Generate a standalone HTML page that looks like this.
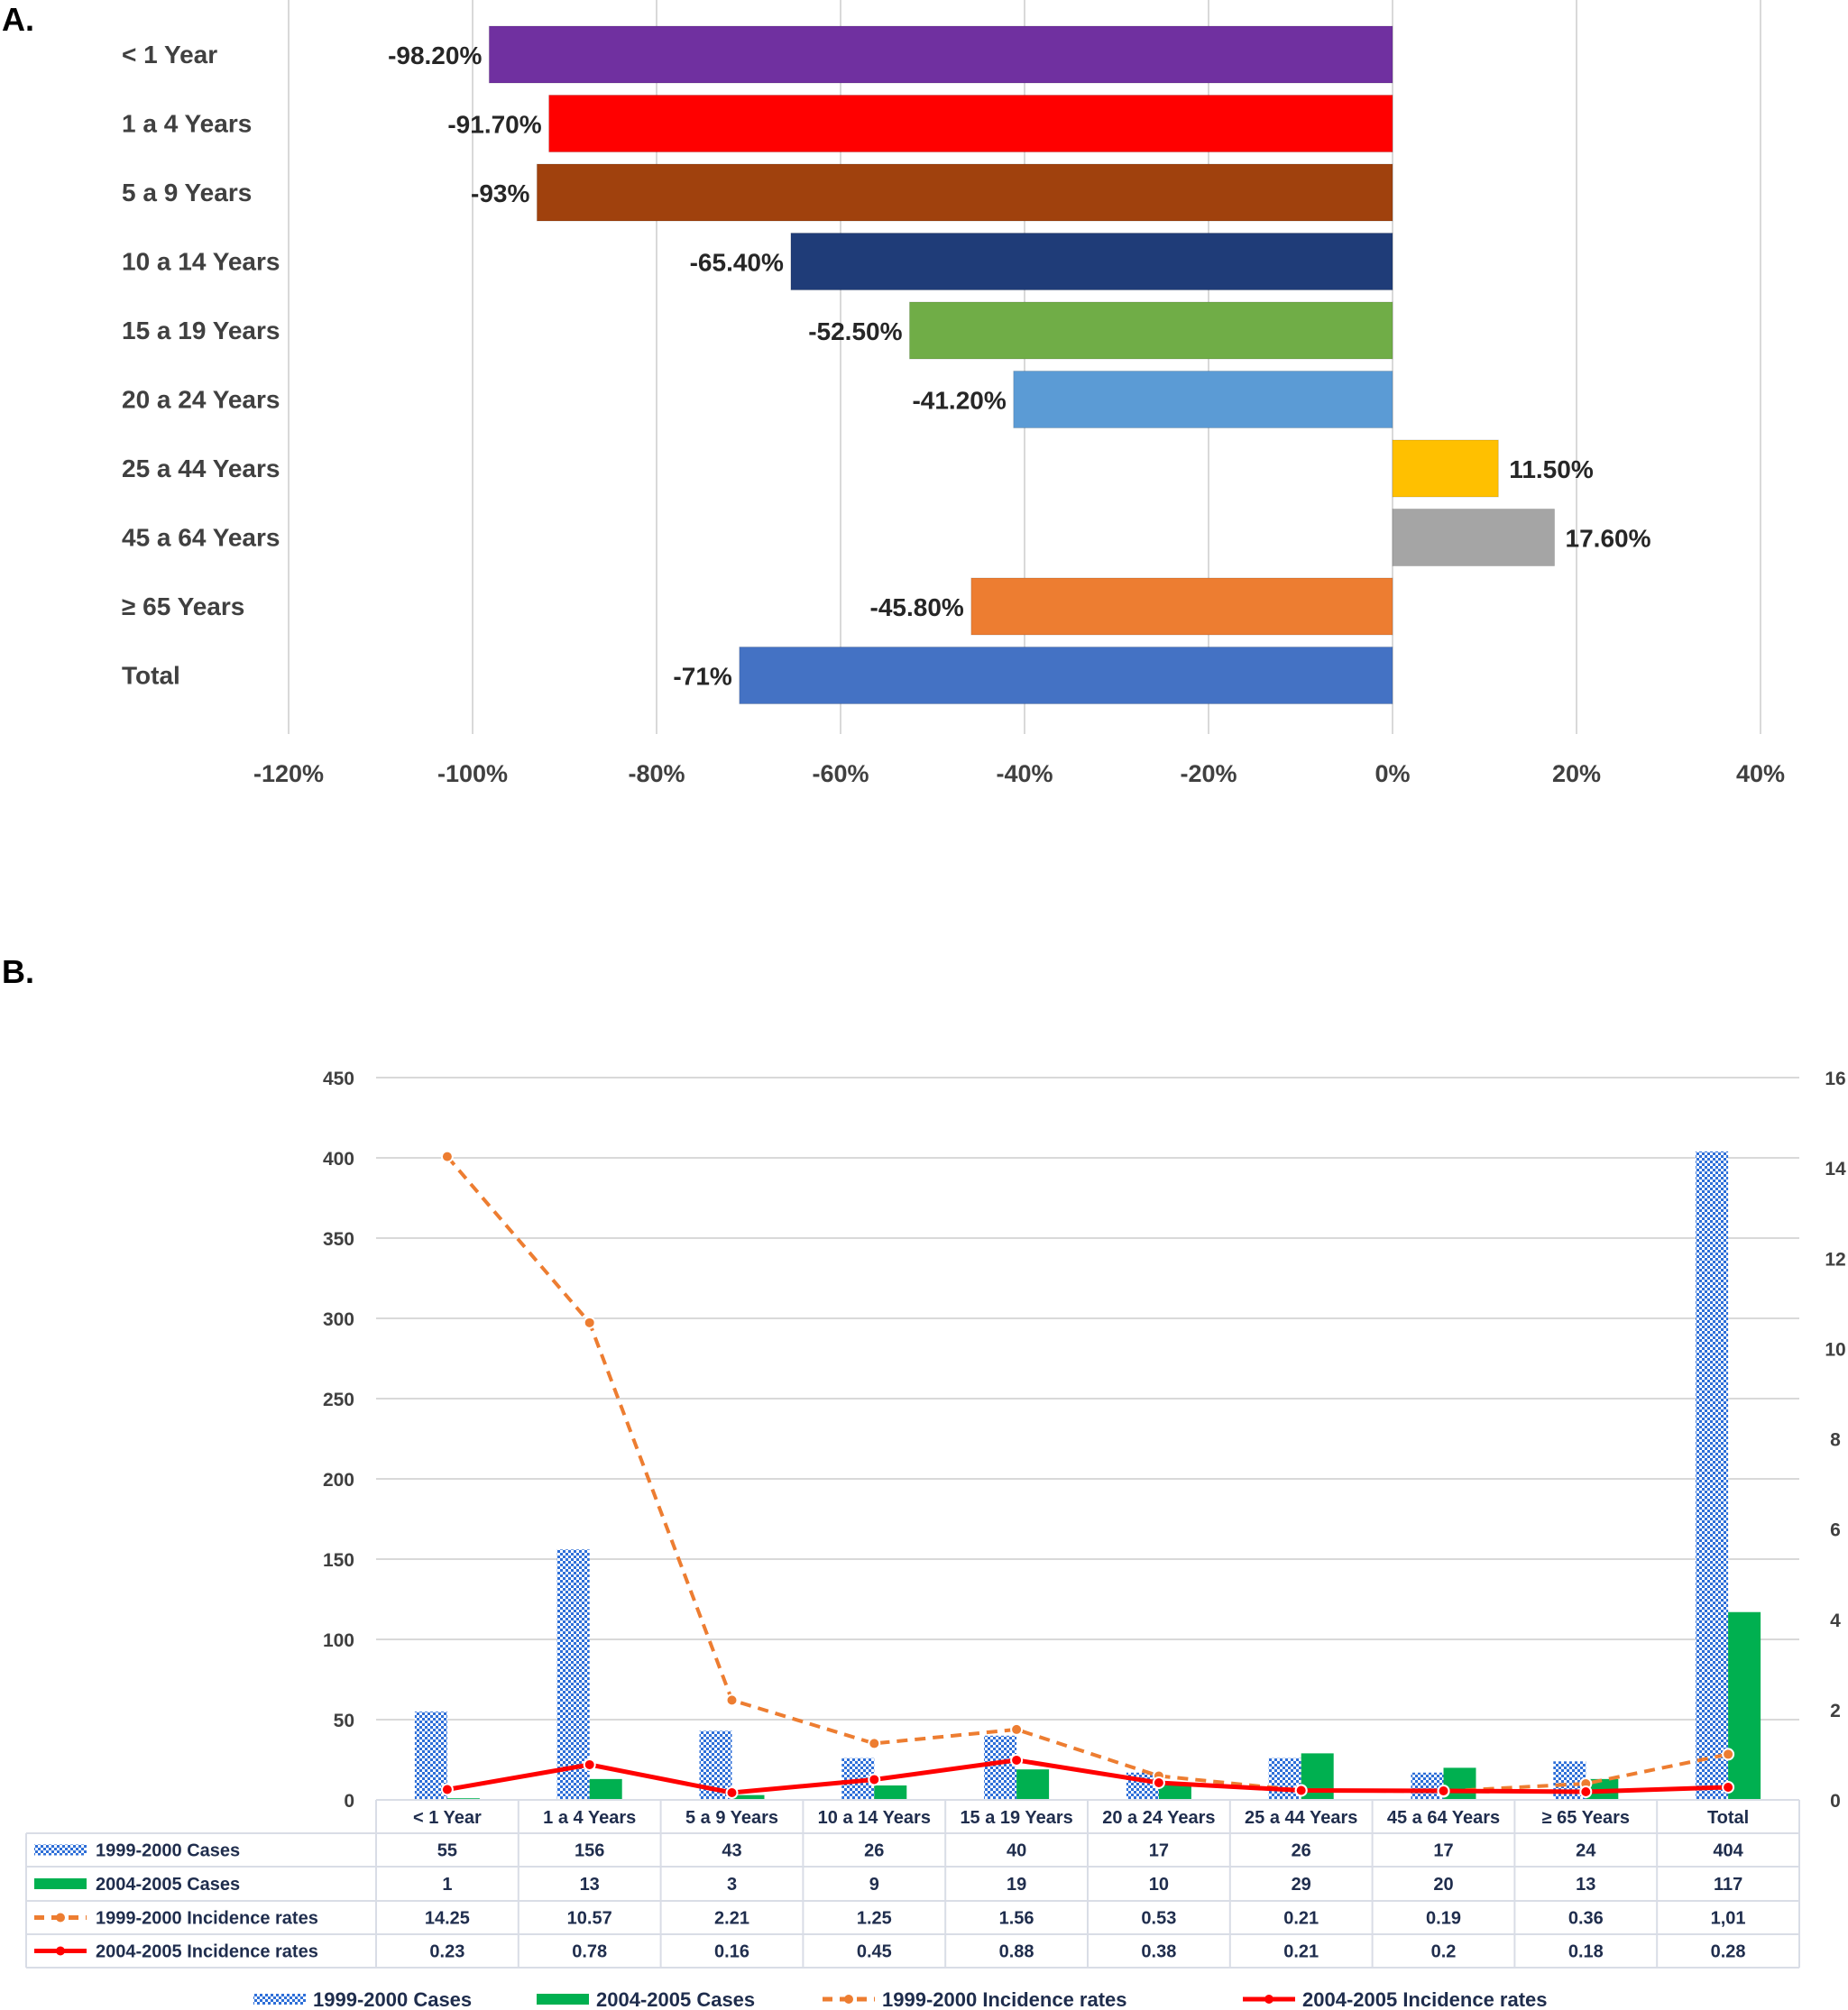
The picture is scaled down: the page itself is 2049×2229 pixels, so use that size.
<!DOCTYPE html>
<html><head><meta charset="utf-8">
<style>
body{margin:0;background:#fff;}
svg{display:block;font-family:"Liberation Sans",sans-serif;}
</style></head>
<body>
<svg id="root" width="2049" height="2229" viewBox="0 0 2049 2229">
<defs>
<pattern id="chk" width="6" height="6" patternUnits="userSpaceOnUse">
<rect width="6" height="6" fill="#2e6fd8"/>
<rect width="3" height="3" fill="#ffffff"/><rect x="3" y="3" width="3" height="3" fill="#ffffff"/>
</pattern>
</defs>
<text x="2" y="34" font-size="36" font-weight="bold" fill="#000">A.</text>
<g id="chartA"></g>
<text x="2" y="1090" font-size="36" font-weight="bold" fill="#000">B.</text>
<g id="chartB"></g>
</svg>
<script>
const aCategories=["< 1 Year","1 a 4 Years","5 a 9 Years","10 a 14 Years","15 a 19 Years","20 a 24 Years","25 a 44 Years","45 a 64 Years","≥ 65 Years","Total"];
const aValues=[-98.2,-91.7,-93,-65.4,-52.5,-41.2,11.5,17.6,-45.8,-71];
const aLabels=["-98.20%","-91.70%","-93%","-65.40%","-52.50%","-41.20%","11.50%","17.60%","-45.80%","-71%"];
const aColors=["#7030a0","#ff0000","#a0410d","#1f3c78","#70ad47","#5b9bd5","#ffc000","#a5a5a5","#ed7d31","#4472c4"];
const aTicks=[-120,-100,-80,-60,-40,-20,0,20,40];

const bCategories=["< 1 Year","1 a 4 Years","5 a 9 Years","10 a 14 Years","15 a 19 Years","20 a 24 Years","25 a 44 Years","45 a 64 Years","≥ 65 Years","Total"];
const cases1999=[55,156,43,26,40,17,26,17,24,404];
const cases2004=[1,13,3,9,19,10,29,20,13,117];
const rate1999=[14.25,10.57,2.21,1.25,1.56,0.53,0.21,0.19,0.36,1.01];
const rate2004=[0.23,0.78,0.16,0.45,0.88,0.38,0.21,0.2,0.18,0.28];
const rate1999Text=["14.25","10.57","2.21","1.25","1.56","0.53","0.21","0.19","0.36","1,01"];
const rate2004Text=["0.23","0.78","0.16","0.45","0.88","0.38","0.21","0.2","0.18","0.28"];
const leftTicks=[0,50,100,150,200,250,300,350,400,450];
const rightTicks=[0,2,4,6,8,10,12,14,16];

const NS="http://www.w3.org/2000/svg";
function mk(p,t,a,txt){const e=document.createElementNS(NS,t);for(const k in a)e.setAttribute(k,a[k]);if(txt!==undefined)e.textContent=txt;p.appendChild(e);return e;}

// Chart A
const A=document.getElementById('chartA');
const ax=v=>1544+v*(204/20);
const ay=i=>60+i*76.5;
aTicks.forEach(t=>{
 const l=mk(A,'line',{x1:ax(t),x2:ax(t),y1:0,y2:814,stroke:'#d9d9d9','stroke-width':2});
 
 
 const tx=mk(A,'text',{x:ax(t),y:867,'text-anchor':'middle','font-size':27,'font-weight':'bold',fill:'#404040'},t+'%');
 
 
});
aCategories.forEach((c,i)=>{
 const y=ay(i);
 const t=mk(A,'text',{x:135,y:y+10,'font-size':28,'font-weight':'bold',fill:'#404040'},c);
 
 
 const v=aValues[i];
 const x0=Math.min(ax(0),ax(v)), w=Math.abs(ax(v)-ax(0));
 const r=mk(A,'rect',{x:x0,y:y-31,width:w,height:63,fill:aColors[i],stroke:'#00000022'});
 
 
 const lx=v<0?ax(v)-8:ax(v)+12;
 const lt=mk(A,'text',{x:lx,y:y+11,'text-anchor':v<0?'end':'start','font-size':28,'font-weight':'bold',fill:'#262626'},aLabels[i]);
 
 
});

// Chart B
const B=document.getElementById('chartB');
const px0=417, cw=157.8, by0=1996;
const yl=v=>by0-v*(801/450);
const yr=v=>by0-v*(801/16);
const cx=i=>px0+cw*i+cw/2;
leftTicks.forEach(t=>{
 const l=mk(B,'line',{x1:px0,x2:1995,y1:yl(t),y2:yl(t),stroke:'#d9d9d9','stroke-width':2});
 
 
 const tx=mk(B,'text',{x:393,y:yl(t)+8,'text-anchor':'end','font-size':21,'font-weight':'bold',fill:'#404040'},t);
 
 
});
rightTicks.forEach(t=>{
 const tx=mk(B,'text',{x:2035,y:yr(t)+8,'text-anchor':'middle','font-size':21,'font-weight':'bold',fill:'#404040'},t);
 
 
});
bCategories.forEach((c,i)=>{
 const b1=mk(B,'rect',{x:cx(i)-36,y:yl(cases1999[i]),width:36,height:by0-yl(cases1999[i]),fill:'url(#chk)'});
 
 
 const b2=mk(B,'rect',{x:cx(i),y:yl(cases2004[i]),width:36,height:by0-yl(cases2004[i]),fill:'#00b050'});
 
 
});
const p1=mk(B,'polyline',{points:rate1999.map((v,i)=>cx(i)+','+yr(v)).join(' '),fill:'none',stroke:'#ed7d31','stroke-width':4,'stroke-dasharray':'12,8'});


const p2=mk(B,'polyline',{points:rate2004.map((v,i)=>cx(i)+','+yr(v)).join(' '),fill:'none',stroke:'#ff0000','stroke-width':5});


rate1999.forEach((v,i)=>{const m=mk(B,'circle',{cx:cx(i),cy:yr(v),r:6,fill:'#ed7d31',stroke:'#fff','stroke-width':2});
 
 });
rate2004.forEach((v,i)=>{const m=mk(B,'circle',{cx:cx(i),cy:yr(v),r:6,fill:'#ff0000',stroke:'#fff','stroke-width':2});
 
 });

// table
const tl=29, rows=[1996,2033,2070,2108,2145,2182];
const lc='#d9dde6';
mk(B,'line',{x1:px0,x2:1995,y1:rows[0],y2:rows[0],stroke:lc,'stroke-width':2});
for(let r=1;r<rows.length;r++) mk(B,'line',{x1:tl,x2:1995,y1:rows[r],y2:rows[r],stroke:lc,'stroke-width':2});
mk(B,'line',{x1:tl,x2:tl,y1:rows[1],y2:rows[5],stroke:lc,'stroke-width':2});
for(let i=0;i<=10;i++) mk(B,'line',{x1:px0+cw*i,x2:px0+cw*i,y1:rows[0],y2:rows[5],stroke:lc,'stroke-width':2});
const tc='#1f2d4d';
bCategories.forEach((c,i)=>{const t=mk(B,'text',{x:cx(i),y:2022,'text-anchor':'middle','font-size':20,'font-weight':'bold',fill:tc},c);
 
 });
const rowData=[cases1999.map(String),cases2004.map(String),rate1999Text,rate2004Text];
const rowNames=["1999-2000 Cases","2004-2005 Cases","1999-2000 Incidence rates","2004-2005 Incidence rates"];
function icon(g,k,x,y){
 if(k===0) mk(g,'rect',{x:x,y:y-6,width:58,height:12,fill:'url(#chk)'});
 else if(k===1) mk(g,'rect',{x:x,y:y-6,width:58,height:12,fill:'#00b050'});
 else if(k===2){mk(g,'line',{x1:x,x2:x+58,y1:y,y2:y,stroke:'#ed7d31','stroke-width':5,'stroke-dasharray':'11,8'});mk(g,'circle',{cx:x+29,cy:y,r:5,fill:'#ed7d31'});}
 else {mk(g,'line',{x1:x,x2:x+58,y1:y,y2:y,stroke:'#ff0000','stroke-width':5});mk(g,'circle',{cx:x+29,cy:y,r:5,fill:'#ff0000'});}
}
rowData.forEach((arr,r)=>{
 const yc=(rows[r+1]+rows[r+2])/2;
 icon(B,r,38,yc);
 const n=mk(B,'text',{x:106,y:yc+7,'font-size':20,'font-weight':'bold',fill:tc},rowNames[r]);
 
 
 arr.forEach((v,i)=>{const t=mk(B,'text',{x:cx(i),y:yc+7,'text-anchor':'middle','font-size':20,'font-weight':'bold',fill:tc},v);
  
  });
});
// legend
const lx=[281,595,912,1378];
rowNames.forEach((nm,k)=>{
 const g=mk(B,'g',{});
 
 
 icon(g,k,lx[k],2217);
 mk(g,'text',{x:lx[k]+66,y:2225,'font-size':22,'font-weight':'bold',fill:tc},nm);
});
</script>
</body></html>
